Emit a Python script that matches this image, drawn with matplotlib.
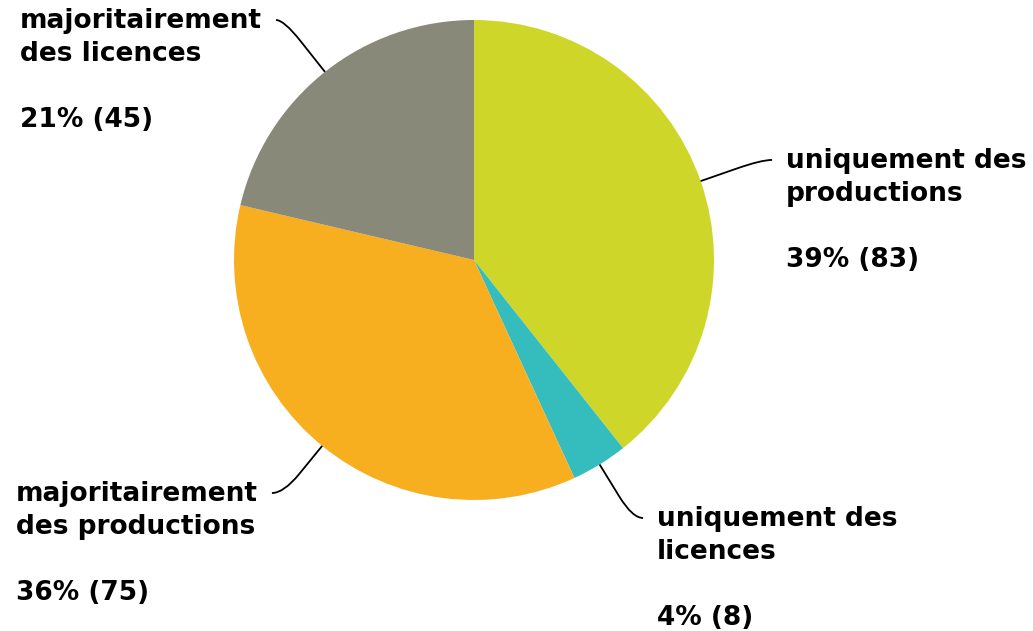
import numpy as np
import matplotlib.pyplot as plt
from matplotlib.path import Path
from matplotlib.patches import PathPatch

# ===========================================
# data
categories = ["uniquement des\nproductions", "uniquement des\nlicences",
              "majoritairement\ndes productions", "majoritairement\ndes licences"]
counts = [83, 8, 75, 45]
colors = ["#CFD62A", "#35BDBE", "#F7AF1F", "#89897A"]

# label anchor (data units, pie radius = 1) and side of the text
label_pos = [(1.30, 0.417), (0.7625, -1.075), (-0.90, -0.971), (-0.883, 1.0)]
label_side = ["left", "left", "right", "right"]

W, H = 1033, 631
cx, cy, R = 474, 260, 240
base_off = 9.0/R     # first baseline sits a bit below the connector end
line_step = 32.6/R   # distance between text lines

fig = plt.figure(figsize=(W/100, H/100), dpi=100)
ax = fig.add_axes([(cx-R)/W, (H-cy-R)/H, 2*R/W, 2*R/H])

wedges, _ = ax.pie(counts, colors=colors, startangle=90, counterclock=False,
                   radius=1, wedgeprops=dict(linewidth=0))
ax.set_xlim(-1, 1)
ax.set_ylim(-1, 1)
ax.set_aspect('equal')
ax.axis('off')

total = float(sum(counts))
for w, lab, n, (lx, ly), side in zip(wedges, categories, counts, label_pos, label_side):
    mid = np.deg2rad(0.5*(w.theta1 + w.theta2))
    ex, ey = np.cos(mid), np.sin(mid)
    # corner where the radial line meets the label's horizontal line
    t = (ly - ey)/ey if abs(ey) > 1e-6 else 0.2
    kx = ex + ex*t
    endx = lx - 0.058 if side == "left" else lx + 0.058
    # straight part, then bend into horizontal
    bx = ex + (kx - ex)*0.6
    by = ey + (ly - ey)*0.6
    verts = [(ex, ey), (bx, by), (kx, ly), (endx, ly)]
    codes = [Path.MOVETO, Path.LINETO, Path.CURVE3, Path.CURVE3]
    ax.add_patch(PathPatch(Path(verts, codes), fill=False, lw=1.3,
                           edgecolor='black', clip_on=False))
    pct = 100*n/total
    txt = "%s\n\n%d%% (%d)" % (lab, round(pct), n)
    # baseline alignment uses the last line, so step down from the first one
    ty = ly - base_off - 3*line_step
    ax.text(lx, ty, txt, ha=side, va='baseline', multialignment='left',
            fontsize=19, fontweight='bold', linespacing=1.34, clip_on=False)

fig.savefig("out.png", dpi=100)
